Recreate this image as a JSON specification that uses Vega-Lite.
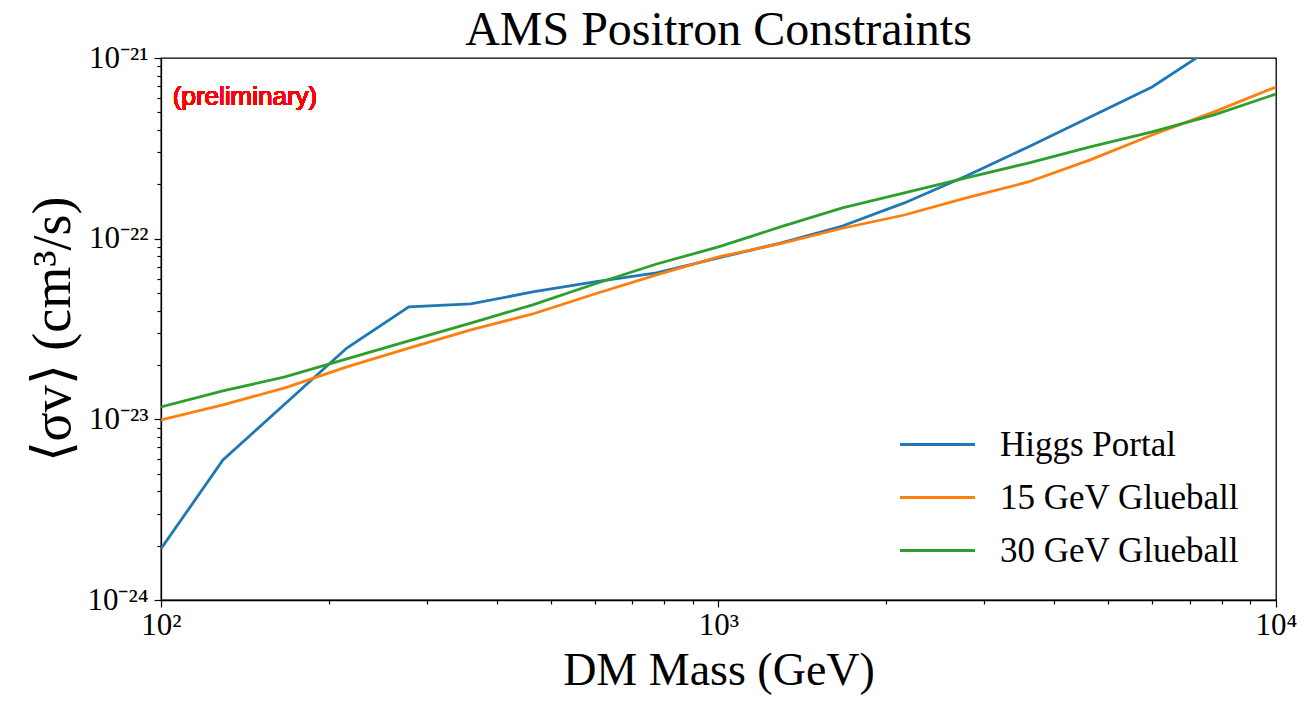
{
  "$schema": "https://vega.github.io/schema/vega-lite/v6.json",
  "width": 1115,
  "height": 542,
  "autosize": {"type": "none"},
  "padding": {"left": 161, "top": 58, "right": 36, "bottom": 101},
  "background": "white",
  "config": {
    "view": {"stroke": "black", "strokeWidth": 1.3},
    "axis": {
      "domainColor": "black",
      "domainWidth": 1.3,
      "tickColor": "black",
      "tickWidth": 1.2,
      "labelColor": "black",
      "labelFont": "Liberation Serif",
      "labelFontSize": 31,
      "titleFont": "Liberation Serif",
      "titleFontWeight": "normal",
      "titleColor": "black",
      "titleFontSize": 46,
      "grid": false,
      "labelOverlap": false,
      "labelFlush": false
    },
    "title": {"font": "Liberation Serif", "fontSize": 48, "fontWeight": "normal", "color": "black", "baseline": "alphabetic", "offset": -13},
    "legend": {
      "labelFont": "Liberation Serif",
      "labelFontSize": 35,
      "labelColor": "black",
      "labelLimit": 0,
      "symbolType": "M-3,0H3",
      "symbolSize": 625,
      "symbolStrokeWidth": 3,
      "padding": 0,
      "rowPadding": 17,
      "labelOffset": 45
    }
  },
  "title": {"text": "AMS Positron Constraints"},
  "data": {
    "values": [
      {"mass": 100, "sv": 1.92e-24, "series": "Higgs Portal"},
      {"mass": 129.15, "sv": 5.96e-24, "series": "Higgs Portal"},
      {"mass": 166.81, "sv": 1.217e-23, "series": "Higgs Portal"},
      {"mass": 215.44, "sv": 2.48e-23, "series": "Higgs Portal"},
      {"mass": 278.26, "sv": 4.19e-23, "series": "Higgs Portal"},
      {"mass": 359.38, "sv": 4.35e-23, "series": "Higgs Portal"},
      {"mass": 464.16, "sv": 5.07e-23, "series": "Higgs Portal"},
      {"mass": 599.48, "sv": 5.76e-23, "series": "Higgs Portal"},
      {"mass": 774.26, "sv": 6.46e-23, "series": "Higgs Portal"},
      {"mass": 1000, "sv": 7.82e-23, "series": "Higgs Portal"},
      {"mass": 1291.55, "sv": 9.46e-23, "series": "Higgs Portal"},
      {"mass": 1668.1, "sv": 1.175e-22, "series": "Higgs Portal"},
      {"mass": 2154.43, "sv": 1.577e-22, "series": "Higgs Portal"},
      {"mass": 2782.56, "sv": 2.22e-22, "series": "Higgs Portal"},
      {"mass": 3593.81, "sv": 3.22e-22, "series": "Higgs Portal"},
      {"mass": 4641.59, "sv": 4.72e-22, "series": "Higgs Portal"},
      {"mass": 5994.84, "sv": 6.91e-22, "series": "Higgs Portal"},
      {"mass": 7742.64, "sv": 1.16e-21, "series": "Higgs Portal"},
      {"mass": 10000, "sv": 2.04e-21, "series": "Higgs Portal"},
      {"mass": 100, "sv": 9.93e-24, "series": "15 GeV Glueball"},
      {"mass": 129.15, "sv": 1.202e-23, "series": "15 GeV Glueball"},
      {"mass": 166.81, "sv": 1.493e-23, "series": "15 GeV Glueball"},
      {"mass": 215.44, "sv": 1.95e-23, "series": "15 GeV Glueball"},
      {"mass": 278.26, "sv": 2.48e-23, "series": "15 GeV Glueball"},
      {"mass": 359.38, "sv": 3.13e-23, "series": "15 GeV Glueball"},
      {"mass": 464.16, "sv": 3.83e-23, "series": "15 GeV Glueball"},
      {"mass": 599.48, "sv": 4.94e-23, "series": "15 GeV Glueball"},
      {"mass": 774.26, "sv": 6.3e-23, "series": "15 GeV Glueball"},
      {"mass": 1000, "sv": 7.92e-23, "series": "15 GeV Glueball"},
      {"mass": 1291.55, "sv": 9.4e-23, "series": "15 GeV Glueball"},
      {"mass": 1668.1, "sv": 1.142e-22, "series": "15 GeV Glueball"},
      {"mass": 2154.43, "sv": 1.352e-22, "series": "15 GeV Glueball"},
      {"mass": 2782.56, "sv": 1.68e-22, "series": "15 GeV Glueball"},
      {"mass": 3593.81, "sv": 2.06e-22, "series": "15 GeV Glueball"},
      {"mass": 4641.59, "sv": 2.73e-22, "series": "15 GeV Glueball"},
      {"mass": 5994.84, "sv": 3.75e-22, "series": "15 GeV Glueball"},
      {"mass": 7742.64, "sv": 5.03e-22, "series": "15 GeV Glueball"},
      {"mass": 10000, "sv": 6.91e-22, "series": "15 GeV Glueball"},
      {"mass": 100, "sv": 1.172e-23, "series": "30 GeV Glueball"},
      {"mass": 129.15, "sv": 1.436e-23, "series": "30 GeV Glueball"},
      {"mass": 166.81, "sv": 1.717e-23, "series": "30 GeV Glueball"},
      {"mass": 215.44, "sv": 2.16e-23, "series": "30 GeV Glueball"},
      {"mass": 278.26, "sv": 2.72e-23, "series": "30 GeV Glueball"},
      {"mass": 359.38, "sv": 3.41e-23, "series": "30 GeV Glueball"},
      {"mass": 464.16, "sv": 4.3e-23, "series": "30 GeV Glueball"},
      {"mass": 599.48, "sv": 5.61e-23, "series": "30 GeV Glueball"},
      {"mass": 774.26, "sv": 7.24e-23, "series": "30 GeV Glueball"},
      {"mass": 1000, "sv": 9.0e-23, "series": "30 GeV Glueball"},
      {"mass": 1291.55, "sv": 1.161e-22, "series": "30 GeV Glueball"},
      {"mass": 1668.1, "sv": 1.479e-22, "series": "30 GeV Glueball"},
      {"mass": 2154.43, "sv": 1.79e-22, "series": "30 GeV Glueball"},
      {"mass": 2782.56, "sv": 2.17e-22, "series": "30 GeV Glueball"},
      {"mass": 3593.81, "sv": 2.62e-22, "series": "30 GeV Glueball"},
      {"mass": 4641.59, "sv": 3.22e-22, "series": "30 GeV Glueball"},
      {"mass": 5994.84, "sv": 3.9e-22, "series": "30 GeV Glueball"},
      {"mass": 7742.64, "sv": 4.84e-22, "series": "30 GeV Glueball"},
      {"mass": 10000, "sv": 6.32e-22, "series": "30 GeV Glueball"}
    ]
  },
  "layer": [
    {
      "mark": {"type": "line", "strokeWidth": 2.8, "clip": true},
      "encoding": {
        "x": {
          "field": "mass", "type": "quantitative",
          "scale": {"type": "log", "domain": [100, 10000], "nice": false},
          "axis": {
            "title": "DM Mass (GeV)",
            "values": [100, 200, 300, 400, 500, 600, 700, 800, 900, 1000, 2000, 3000, 4000, 5000, 6000, 7000, 8000, 9000, 10000],
            "labelExpr": "datum.value < 110 ? '10²' : (datum.value > 990 && datum.value < 1010) ? '10³' : datum.value > 9900 ? '10⁴' : ''",
            "tickSize": {"condition": {"test": "datum.value < 110 || (datum.value > 990 && datum.value < 1010) || datum.value > 9900", "value": 7}, "value": 4},
            "labelPadding": 3,
            "titlePadding": 8
          }
        },
        "y": {
          "field": "sv", "type": "quantitative",
          "scale": {"type": "log", "domain": [1e-24, 1e-21], "nice": false},
          "axis": {
            "title": "⟨σv⟩ (cm³/s)",
            "titleFontSize": 54,
            "values": [1e-24, 2e-24, 3e-24, 4e-24, 5e-24, 6e-24, 7e-24, 8e-24, 9e-24, 1e-23, 2e-23, 3e-23, 4e-23, 5e-23, 6e-23, 7e-23, 8e-23, 9e-23, 1e-22, 2e-22, 3e-22, 4e-22, 5e-22, 6e-22, 7e-22, 8e-22, 9e-22, 1e-21],
            "labelExpr": "datum.value < 1.1e-24 ? '10⁻²⁴' : (datum.value > 0.99e-23 && datum.value < 1.01e-23) ? '10⁻²³' : (datum.value > 0.99e-22 && datum.value < 1.01e-22) ? '10⁻²²' : datum.value > 0.99e-21 ? '10⁻²¹' : ''",
            "tickSize": {"condition": {"test": "datum.value < 1.1e-24 || (datum.value > 0.99e-23 && datum.value < 1.01e-23) || (datum.value > 0.99e-22 && datum.value < 1.01e-22) || datum.value > 0.99e-21", "value": 7}, "value": 4},
            "labelPadding": 6,
            "titlePadding": 6
          }
        },
        "color": {
          "field": "series", "type": "nominal",
          "scale": {"domain": ["Higgs Portal", "15 GeV Glueball", "30 GeV Glueball"], "range": ["#1f77b4", "#ff7f0e", "#2ca02c"]},
          "legend": {"title": null, "orient": "none", "legendX": 759, "legendY": 369}
        }
      }
    },
    {
      "mark": {"type": "text", "text": "(preliminary)", "align": "left", "baseline": "middle", "color": "#ff0000", "font": "Liberation Sans", "fontSize": 26},
      "encoding": {
        "x": {"datum": 105},
        "y": {"datum": 6.08e-22}
      }
    }
  ]
}
